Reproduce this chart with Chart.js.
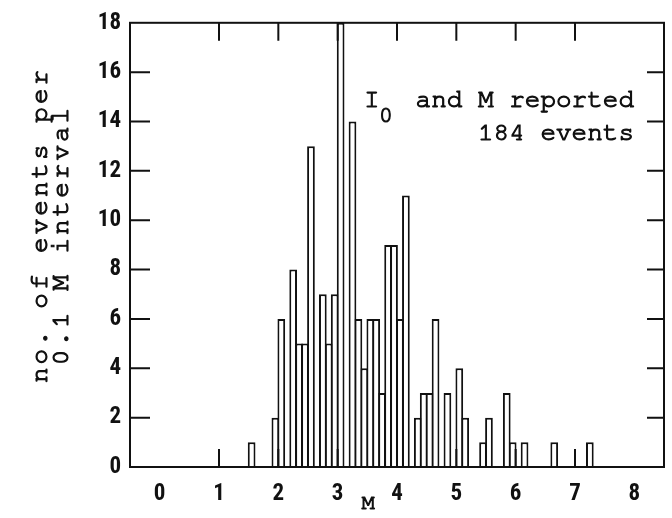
<!DOCTYPE html>
<html>
<head>
<meta charset="utf-8">
<title>Events per 0.1 M interval</title>
<script src="https://cdn.jsdelivr.net/npm/chart.js@4.4.1/dist/chart.umd.min.js"></script>
<style>
  html, body { margin: 0; padding: 0; background: #fff; }
  #wrap { width: 672px; height: 518px; }
</style>
</head>
<body>
<div id="wrap"><canvas id="histChart" width="672" height="518"></canvas></div>
<script>
// lower edge of every 0.1 M bin that holds events
let binStarts = [1.5, 1.9, 2.0, 2.2, 2.3, 2.4, 2.5, 2.7, 2.8, 2.9,
                 3.0, 3.2, 3.3, 3.4, 3.5, 3.6, 3.7, 3.8, 3.9, 4.0,
                 4.1, 4.3, 4.4, 4.5, 4.6, 4.8, 5.0, 5.1, 5.4, 5.5,
                 5.8, 5.9, 6.1, 6.6, 7.2];
// events in each bin (184 in all)
let eventCounts = [1, 2, 6, 8, 5, 5, 13, 7, 5, 7,
                   18, 14, 6, 4, 6, 6, 3, 9, 9, 6,
                   11, 2, 3, 3, 6, 3, 4, 2, 1, 2,
                   3, 1, 1, 1, 1];
let binWidth = 0.1;
let xTicks = [0, 1, 2, 3, 4, 5, 6, 7, 8];
let yTicks = [0, 2, 4, 6, 8, 10, 12, 14, 16, 18];

let tickFont = {
    family: "'Roboto Condensed', 'DejaVu Sans Condensed', sans-serif",
    size: 23,
    weight: 'bold'
};
let monoFont = 'FreeMono, "Liberation Mono", monospace';

// Box around the plot with inward tick marks on all four sides
let framePlugin = {
    id: 'frame',
    afterDatasetsDraw(chart) {
        let ctx = chart.ctx;
        let area = chart.chartArea;
        let xs = chart.scales.x;
        let ys = chart.scales.y;
        ctx.save();
        ctx.strokeStyle = '#111';
        ctx.lineWidth = 2;
        ctx.strokeRect(area.left, area.top, area.right - area.left, area.bottom - area.top);
        ctx.beginPath();
        xTicks.slice(1, -1).forEach(v => {
            let px = xs.getPixelForValue(v);
            ctx.moveTo(px, area.bottom);
            ctx.lineTo(px, area.bottom - 18);
            ctx.moveTo(px, area.top);
            ctx.lineTo(px, area.top + 18);
        });
        yTicks.slice(1, -1).forEach(v => {
            let py = ys.getPixelForValue(v);
            ctx.moveTo(area.left, py);
            ctx.lineTo(area.left + 20, py);
            ctx.moveTo(area.right, py);
            ctx.lineTo(area.right - 17, py);
        });
        ctx.stroke();
        ctx.restore();
    }
};

// typewriter text, filled and lightly stroked so it reads a bit heavier
function typeText(ctx, text, x, y) {
    ctx.fillText(text, x, y);
    ctx.strokeText(text, x, y);
}

// Axis titles and the note in the upper right
let textPlugin = {
    id: 'texts',
    afterDraw(chart) {
        let ctx = chart.ctx;
        let area = chart.chartArea;
        ctx.save();
        ctx.fillStyle = '#111';
        ctx.strokeStyle = '#111';
        ctx.lineWidth = 1.1;

        // y title, two rotated lines
        ctx.font = '26px ' + monoFont;
        ctx.textAlign = 'center';
        ctx.textBaseline = 'alphabetic';
        if ('letterSpacing' in ctx) ctx.letterSpacing = '3px';
        ctx.save();
        ctx.translate(area.left - 83, 225);
        ctx.rotate(-Math.PI / 2);
        typeText(ctx, 'no. of events per', 0, 0);
        ctx.restore();
        ctx.save();
        ctx.translate(area.left - 62, 235);
        ctx.rotate(-Math.PI / 2);
        typeText(ctx, '0.1 M interval', 0, 0);
        ctx.restore();
        if ('letterSpacing' in ctx) ctx.letterSpacing = '0px';

        // note
        ctx.textAlign = 'right';
        typeText(ctx, 'and M reported', area.right - 30, area.top + 84);
        typeText(ctx, '184 events', area.right - 30, area.top + 117);
        ctx.textAlign = 'left';
        typeText(ctx, 'I', area.right - 300, area.top + 84);
        ctx.font = '23px ' + monoFont;
        typeText(ctx, '0', area.right - 285, area.top + 99);

        // x title
        ctx.textAlign = 'center';
        ctx.font = '22px ' + monoFont;
        typeText(ctx, 'M', area.left + 238, 509);
        ctx.restore();
    }
};

let histCtx = document.getElementById('histChart').getContext('2d');
let histChart = new Chart(histCtx, {
    type: 'bar',
    data: {
        datasets: [{
            label: 'events',
            data: binStarts.map((m, i) => ({ x: m + binWidth / 2, y: eventCounts[i] })),
            backgroundColor: '#ffffff',
            borderColor: '#111111',
            borderWidth: 2,
            categoryPercentage: 1,
            barPercentage: 1.3
        }]
    },
    options: {
        responsive: false,
        devicePixelRatio: 1,
        animation: false,
        layout: {
            padding: { left: 0, right: 8, top: 18, bottom: 0 }
        },
        plugins: {
            legend: { display: false },
            tooltip: { enabled: false }
        },
        scales: {
            x: {
                type: 'linear',
                min: 0,
                max: 8,
                grid: { display: false, drawTicks: false },
                border: { display: false },
                afterBuildTicks: scale => { scale.ticks = xTicks.map(v => ({ value: v })); },
                afterFit: scale => { scale.height = 51; },
                ticks: {
                    color: '#111',
                    font: tickFont,
                    padding: 13,
                    maxRotation: 0,
                    autoSkip: false
                }
            },
            y: {
                min: 0,
                max: 18,
                grid: { display: false, drawTicks: false },
                border: { display: false },
                afterBuildTicks: scale => { scale.ticks = yTicks.map(v => ({ value: v })); },
                afterFit: scale => { scale.width = 130; },
                ticks: {
                    color: '#111',
                    font: tickFont,
                    padding: 9
                }
            }
        }
    },
    plugins: [framePlugin, textPlugin]
});
</script>
</body>
</html>
